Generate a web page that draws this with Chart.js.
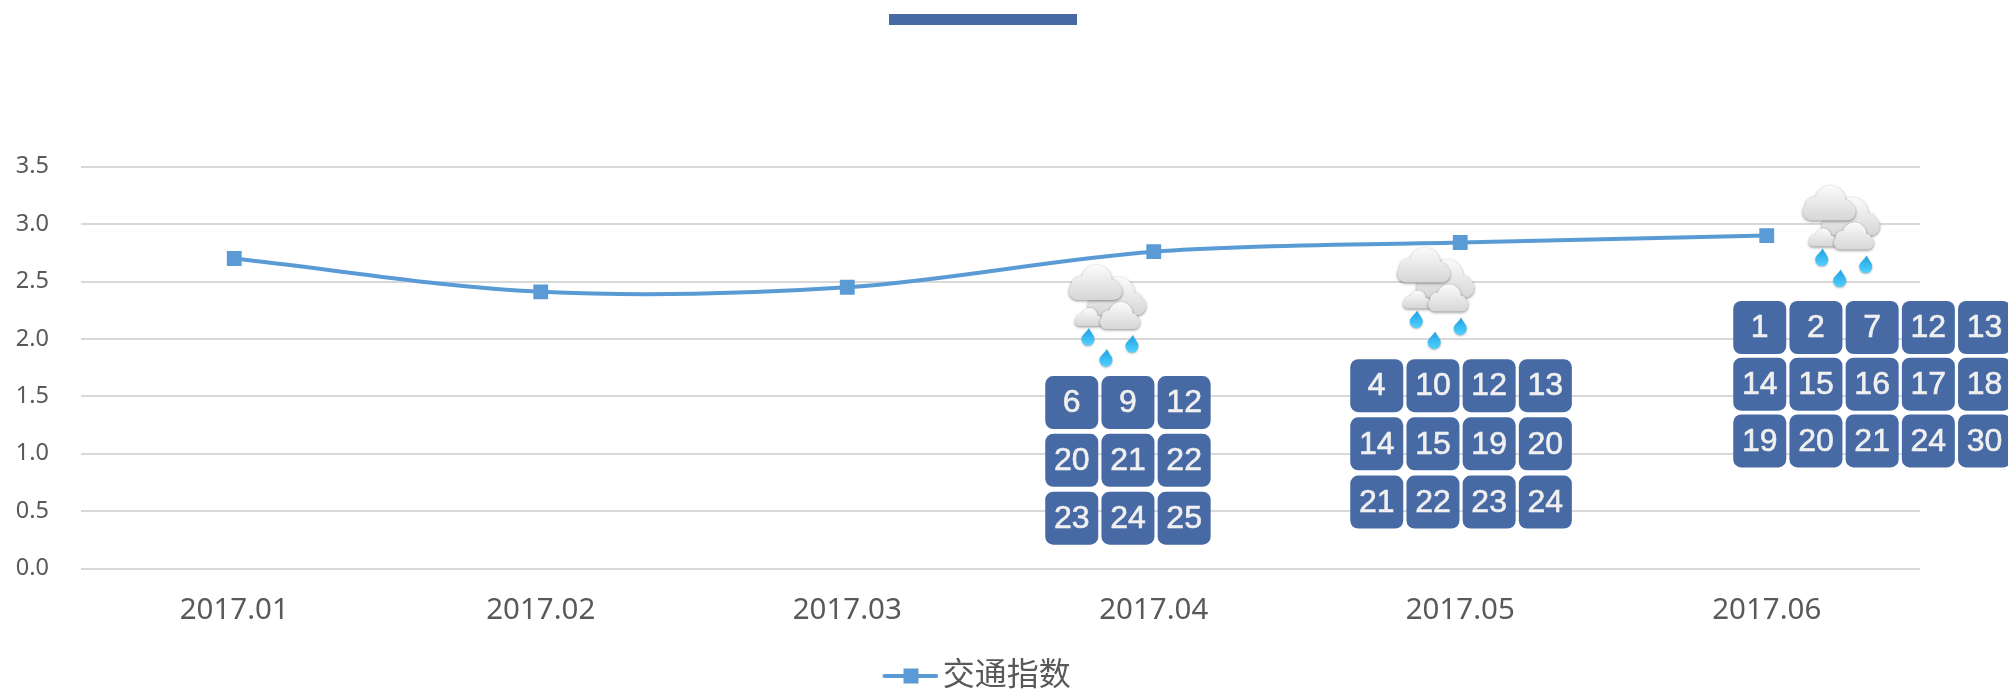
<!DOCTYPE html>
<html lang="en">
<head>
    <meta charset="UTF-8">
    <title>交通指数</title>
    <style>
        html, body { margin: 0; padding: 0; background: #fff; }
        #chartContainer { position: relative; width: 2008px; height: 691px; }
    </style>
</head>
<body>
    <div id="chartContainer">
        <canvas id="trafficChart" width="2008" height="691"></canvas>
    </div>

    <script src="https://cdn.jsdelivr.net/npm/chart.js"></script>
    <script>
        const months = ['2017.01', '2017.02', '2017.03', '2017.04', '2017.05', '2017.06'];
        const trafficIndex = [2.7, 2.41, 2.45, 2.76, 2.84, 2.9];
        const seriesName = '交通指数';

        // rainy days per month
        const rainMonths = ['2017.04', '2017.05', '2017.06'];
        const rainDaysApr = [6, 9, 12, 20, 21, 22, 23, 24, 25];
        const rainDaysMay = [4, 10, 12, 13, 14, 15, 19, 20, 21, 22, 23, 24];
        const rainDaysJun = [1, 2, 7, 12, 13, 14, 15, 16, 17, 18, 19, 20, 21, 24, 30];
        const rainDays = [rainDaysApr, rainDaysMay, rainDaysJun];

        const BLUE = '#5B9BD5';
        const TILE = '#476AA4';
        const FONT = '"Noto Sans", "Noto Sans CJK SC", sans-serif';

        // offsets from the month's data point, in px
        const rainLayout = [
            { cols: 3, tileX: -108.5, tileY: 124.4, rowStep: 57.8, iconX: -85.8, iconY: 13.4 },
            { cols: 4, tileX: -110, tileY: 116.7, rowStep: 58.2, iconX: -64, iconY: 5 },
            { cols: 5, tileX: -33.5, tileY: 65.4, rowStep: 56.7, iconX: 35, iconY: -50 }
        ];

        function roundTile(ctx, x, y, w, h, r) {
            ctx.beginPath();
            ctx.roundRect(x, y, w, h, r);
            ctx.fillStyle = TILE;
            ctx.fill();
        }

        // w/h box of one cloud: flat base, one big bump, two shoulders
        function cloud(ctx, x, y, w, h) {
            const grad = ctx.createLinearGradient(0, y, 0, y + h);
            grad.addColorStop(0, '#fbfbfb');
            grad.addColorStop(1, '#d6d6d6');
            ctx.save();
            ctx.shadowColor = 'rgba(0,0,0,0.45)';
            ctx.shadowBlur = 3;
            ctx.shadowOffsetY = 1;
            ctx.fillStyle = grad;
            ctx.beginPath();
            ctx.roundRect(x, y + h * 0.5, w, h * 0.5, h * 0.24);
            const big = h * 0.44;
            ctx.moveTo(x + w * 0.52 + big, y + big);
            ctx.arc(x + w * 0.52, y + big, big, 0, Math.PI * 2);
            const small = h * 0.27;
            ctx.moveTo(x + w * 0.22 + small, y + h * 0.58);
            ctx.arc(x + w * 0.22, y + h * 0.58, small, 0, Math.PI * 2);
            ctx.moveTo(x + w * 0.8 + small * 0.8, y + h * 0.62);
            ctx.arc(x + w * 0.8, y + h * 0.62, small * 0.8, 0, Math.PI * 2);
            ctx.fill('nonzero');
            ctx.restore();
        }

        function drop(ctx, x, y) {
            const grad = ctx.createLinearGradient(0, y - 10, 0, y + 7);
            grad.addColorStop(0, '#1f9fe0');
            grad.addColorStop(1, '#4fd0ff');
            ctx.save();
            ctx.shadowColor = 'rgba(0,0,0,0.3)';
            ctx.shadowBlur = 2;
            ctx.shadowOffsetY = 1;
            ctx.fillStyle = grad;
            ctx.beginPath();
            ctx.moveTo(x + 1, y - 10);
            ctx.bezierCurveTo(x - 2, y - 5, x - 6.5, y - 3, x - 6.5, y + 1);
            ctx.arc(x, y + 1, 6.5, Math.PI, 0, true);
            ctx.bezierCurveTo(x + 6.5, y - 3, x + 3, y - 5, x + 1, y - 10);
            ctx.fill();
            ctx.restore();
        }

        function rainIcon(ctx, x, y) {
            cloud(ctx, x + 20, y + 12, 58, 38);
            cloud(ctx, x + 7, y + 43, 28, 18);
            cloud(ctx, x + 32, y + 37, 40, 27);
            cloud(ctx, x + 1, y, 53, 35);
            drop(ctx, x + 20, y + 73);
            drop(ctx, x + 64, y + 80);
            drop(ctx, x + 38, y + 94);
        }

        const rainPlugin = {
            id: 'rainPlugin',
            afterLayout(chart) {
                // legend is centred on the whole canvas-ish, nudge it to the reference spot
                chart.legend.left += 17;
                chart.legend.right += 17;
                chart.legend.top += 11;
                chart.legend.bottom += 11;
            },
            afterDraw(chart) {
                const { ctx, scales: { x, y } } = chart;
                // title bar of the source image
                ctx.fillStyle = TILE;
                ctx.fillRect(889, 14, 188, 11);

                rainMonths.forEach((month, i) => {
                    const idx = months.indexOf(month);
                    const px = x.getPixelForValue(idx);
                    const py = y.getPixelForValue(trafficIndex[idx]);
                    const lay = rainLayout[i];
                    rainIcon(ctx, px + lay.iconX, py + lay.iconY);
                    rainDays[i].forEach((day, j) => {
                        const col = j % lay.cols;
                        const row = Math.floor(j / lay.cols);
                        const tx = px + lay.tileX + col * 56.2;
                        const ty = py + lay.tileY + row * lay.rowStep;
                        roundTile(ctx, tx, ty, 53, 53, 8);
                        ctx.fillStyle = '#F0F0F0';
                        ctx.strokeStyle = '#F0F0F0';
                        ctx.lineWidth = 0.6;
                        ctx.font = '32px "Liberation Sans", Arial, sans-serif';
                        ctx.textAlign = 'center';
                        ctx.textBaseline = 'middle';
                        ctx.fillText(String(day), tx + 26.5, ty + 27.5);
                        ctx.strokeText(String(day), tx + 26.5, ty + 27.5);
                    });
                });
            }
        };

        // legend key: line with the square marker on it
        const legendKey = document.createElement('canvas');
        legendKey.width = 67;
        legendKey.height = 16;
        const keyCtx = legendKey.getContext('2d');
        keyCtx.strokeStyle = BLUE;
        keyCtx.lineWidth = 4;
        keyCtx.lineCap = 'round';
        keyCtx.beginPath();
        keyCtx.moveTo(13, 8);
        keyCtx.lineTo(65, 8);
        keyCtx.stroke();
        keyCtx.fillStyle = BLUE;
        keyCtx.fillRect(32, 0.5, 15, 15);

        const chart = new Chart(document.getElementById('trafficChart'), {
            type: 'line',
            data: {
                labels: months,
                datasets: [{
                    label: seriesName,
                    data: trafficIndex,
                    borderColor: BLUE,
                    backgroundColor: BLUE,
                    borderWidth: 4,
                    tension: 0.33,
                    pointStyle: 'rect',
                    pointRadius: 10.5,
                    pointBorderWidth: 0,
                    fill: false
                }]
            },
            options: {
                responsive: false,
                animation: false,
                layout: { padding: { top: 166.7, bottom: 0, left: 0, right: 88 } },
                scales: {
                    x: {
                        offset: true,
                        grid: { display: false },
                        border: { display: false },
                        ticks: {
                            color: '#595959',
                            padding: 16,
                            maxRotation: 0,
                            font: { family: FONT, size: 29.5 }
                        },
                        afterFit(axis) { axis.height = 78.5; }
                    },
                    y: {
                        min: 0,
                        max: 3.5,
                        grid: { color: '#D9D9D9', lineWidth: 2, drawTicks: false },
                        border: { display: false },
                        ticks: {
                            stepSize: 0.5,
                            color: '#595959',
                            padding: 32,
                            font: { family: FONT, size: 23.5 },
                            callback: v => v.toFixed(1)
                        },
                        afterFit(axis) { axis.width = 81; }
                    }
                },
                plugins: {
                    title: { display: false },
                    tooltip: { enabled: false },
                    legend: {
                        position: 'bottom',
                        labels: {
                            color: '#595959',
                            font: { family: FONT, size: 32 },
                            padding: 2,
                            usePointStyle: true,
                            pointStyle: legendKey,
                            pointStyleWidth: 43.5,
                            boxHeight: 16
                        }
                    }
                }
            },
            plugins: [rainPlugin]
        });
    </script>
</body>
</html>
